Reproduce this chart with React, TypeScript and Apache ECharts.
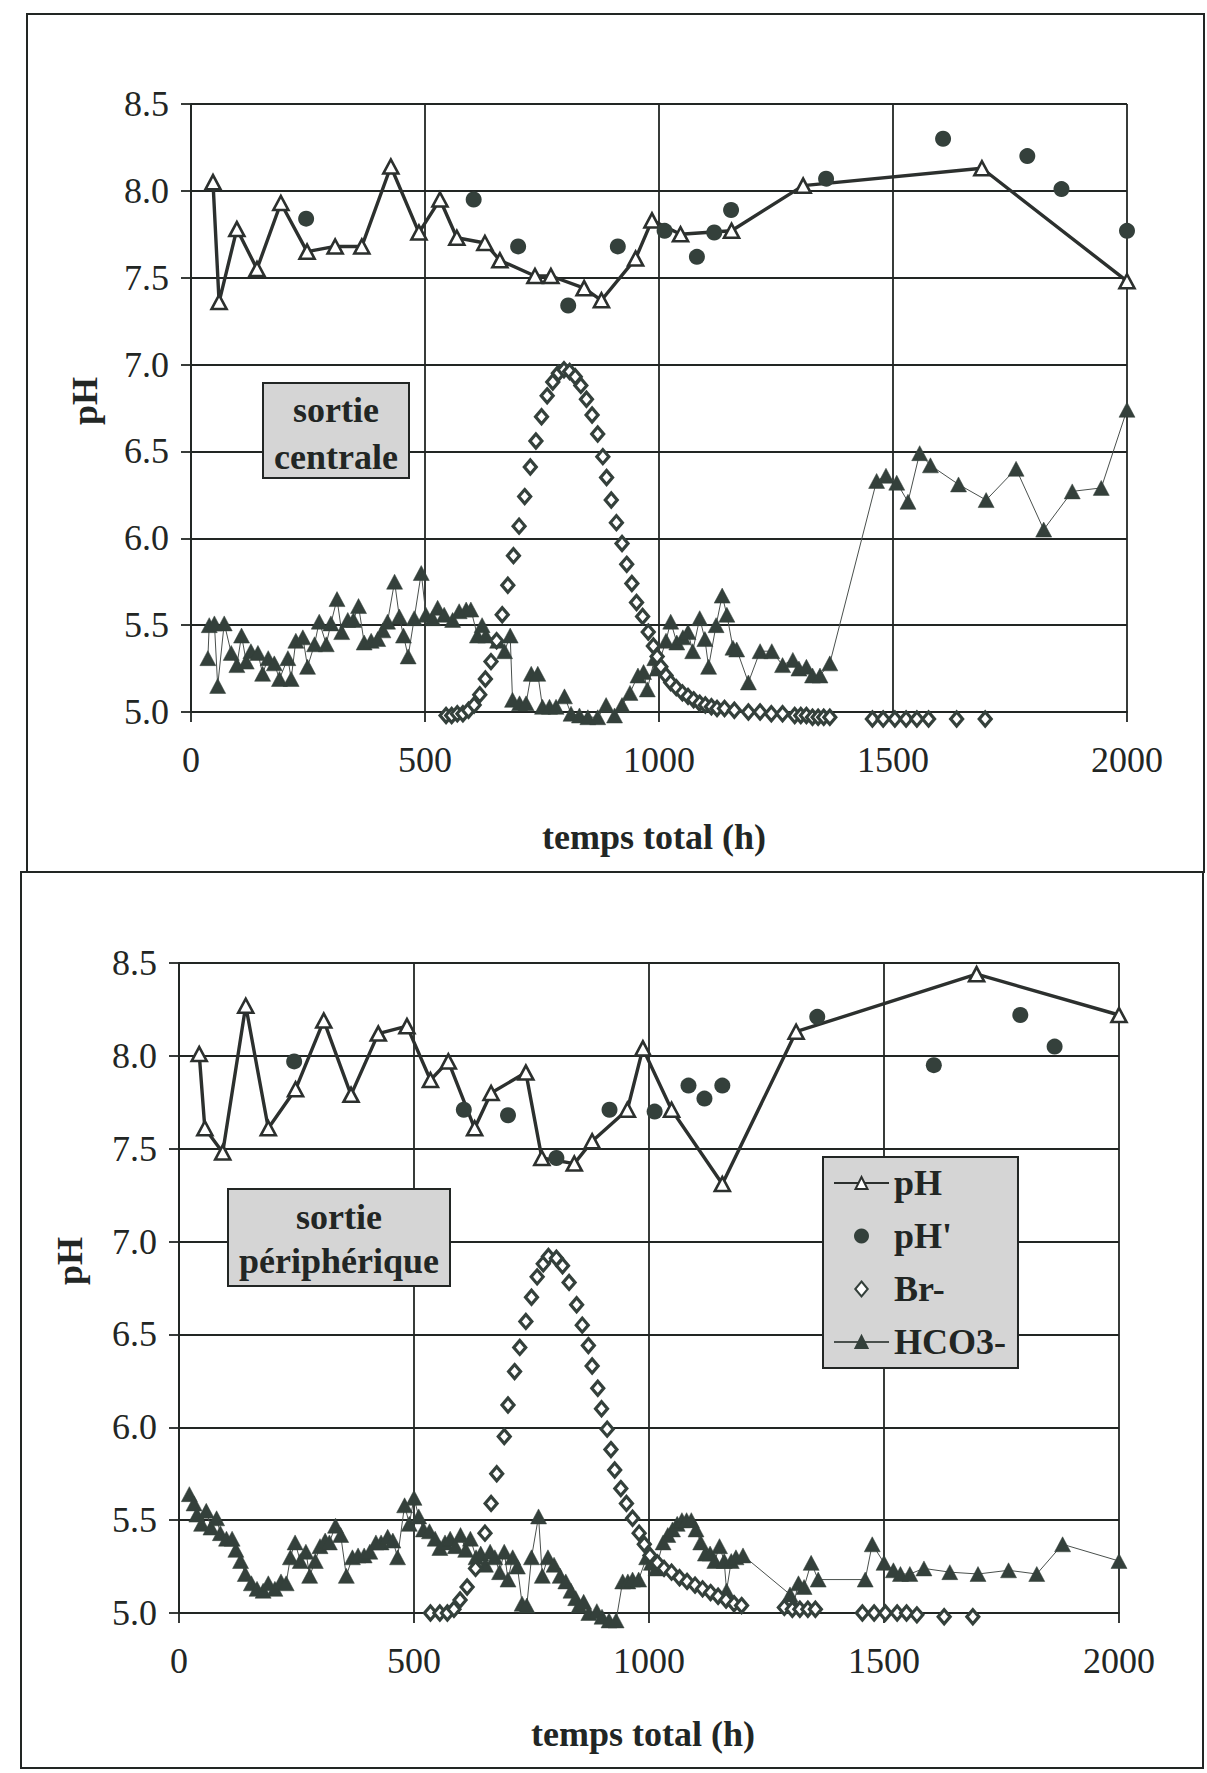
import React, { useEffect, useRef } from "react";
import * as echarts from "echarts";

// ---------- data : sortie centrale (top) ----------
const topPH: number[][] = [[47,8.05],[60,7.36],[98,7.78],[141,7.55],[192,7.93],[248,7.65],[308,7.68],[365,7.68],[427,8.14],[487,7.76],[532,7.95],[568,7.73],[628,7.70],[660,7.60],[735,7.51],[769,7.51],[840,7.44],[877,7.37],[950,7.61],[985,7.83],[1046,7.75],[1155,7.77],[1308,8.03],[1690,8.13],[2000,7.48]];
const topPHp: number[][] = [[246,7.84],[604,7.95],[699,7.68],[806,7.34],[912,7.68],[1012,7.77],[1081,7.62],[1118,7.76],[1154,7.89],[1357,8.07],[1607,8.30],[1787,8.20],[1860,8.01],[2000,7.77]];
const topBr: number[][] = [[545,4.98],[557,4.98],[569,4.99],[581,4.99],[593,5.01],[605,5.04],[617,5.10],[629,5.19],[641,5.29],[653,5.41],[665,5.56],[677,5.73],[689,5.90],[701,6.07],[713,6.24],[725,6.41],[737,6.56],[749,6.70],[761,6.82],[773,6.90],[785,6.95],[797,6.97],[809,6.96],[821,6.93],[833,6.88],[845,6.80],[857,6.71],[869,6.60],[880,6.47],[888,6.35],[898,6.22],[909,6.09],[921,5.97],[931,5.85],[942,5.74],[952,5.63],[965,5.55],[977,5.46],[988,5.38],[996,5.32],[1004,5.26],[1015,5.21],[1025,5.17],[1037,5.14],[1050,5.11],[1062,5.09],[1074,5.07],[1087,5.05],[1099,5.04],[1112,5.03],[1124,5.02],[1140,5.02],[1161,5.01],[1191,5.00],[1216,5.00],[1240,4.99],[1264,4.99],[1290,4.98],[1303,4.98],[1315,4.98],[1328,4.97],[1340,4.97],[1352,4.97],[1365,4.97],[1456,4.96],[1479,4.96],[1504,4.96],[1528,4.96],[1551,4.96],[1576,4.96],[1636,4.96],[1697,4.96]];
const topHCO3: number[][] = [[36,5.31],[39,5.50],[50,5.51],[57,5.15],[71,5.51],[86,5.34],[98,5.27],[108,5.44],[118,5.29],[128,5.35],[143,5.34],[153,5.22],[165,5.31],[178,5.28],[189,5.19],[207,5.31],[214,5.19],[224,5.41],[239,5.43],[249,5.26],[264,5.39],[274,5.52],[289,5.39],[299,5.51],[312,5.65],[322,5.46],[335,5.53],[347,5.53],[358,5.61],[370,5.40],[385,5.41],[399,5.42],[410,5.47],[420,5.52],[435,5.75],[445,5.55],[454,5.44],[464,5.32],[477,5.54],[492,5.80],[502,5.56],[516,5.54],[527,5.60],[541,5.56],[559,5.53],[573,5.58],[588,5.59],[598,5.59],[612,5.44],[622,5.50],[630,5.44],[655,5.41],[670,5.35],[682,5.44],[687,5.07],[702,5.05],[716,5.05],[727,5.22],[741,5.22],[751,5.03],[766,5.03],[780,5.03],[798,5.09],[812,4.99],[830,4.98],[848,4.97],[869,4.97],[887,5.04],[905,4.98],[921,5.04],[938,5.11],[955,5.21],[967,5.23],[975,5.13],[991,5.31],[996,5.25],[1015,5.41],[1025,5.52],[1038,5.40],[1051,5.43],[1062,5.46],[1072,5.35],[1087,5.54],[1098,5.42],[1106,5.26],[1122,5.50],[1135,5.67],[1145,5.56],[1158,5.37],[1166,5.36],[1191,5.17],[1216,5.35],[1241,5.35],[1264,5.27],[1286,5.30],[1299,5.25],[1315,5.26],[1328,5.21],[1344,5.21],[1365,5.28],[1465,6.33],[1485,6.36],[1508,6.32],[1532,6.21],[1557,6.49],[1580,6.42],[1640,6.31],[1699,6.22],[1763,6.40],[1822,6.05],[1883,6.27],[1945,6.29],[2000,6.74]];

// ---------- data : sortie périphérique (bottom) ----------
const botPH: number[][] = [[43,8.01],[55,7.61],[93,7.48],[142,8.27],[190,7.61],[248,7.82],[308,8.19],[366,7.79],[424,8.12],[485,8.16],[535,7.87],[573,7.97],[629,7.61],[664,7.80],[738,7.91],[772,7.45],[841,7.42],[879,7.54],[954,7.71],[987,8.04],[1048,7.71],[1156,7.31],[1313,8.13],[1697,8.44],[2000,8.22]];
const botPHp: number[][] = [[245,7.97],[606,7.71],[700,7.68],[803,7.45],[916,7.71],[1012,7.70],[1084,7.84],[1118,7.77],[1156,7.84],[1358,8.21],[1606,7.95],[1790,8.22],[1863,8.05]];
const botBr: number[][] = [[535,5.00],[555,5.00],[571,5.00],[585,5.02],[598,5.07],[613,5.14],[631,5.24],[651,5.43],[664,5.59],[676,5.75],[692,5.95],[700,6.12],[714,6.30],[725,6.43],[738,6.57],[750,6.70],[762,6.81],[775,6.88],[786,6.92],[803,6.91],[816,6.87],[830,6.78],[846,6.66],[858,6.55],[871,6.44],[879,6.33],[891,6.21],[899,6.10],[911,5.99],[919,5.88],[927,5.77],[940,5.67],[952,5.59],[965,5.51],[979,5.43],[990,5.37],[1002,5.31],[1018,5.27],[1032,5.24],[1048,5.22],[1065,5.19],[1081,5.17],[1098,5.15],[1114,5.13],[1131,5.11],[1147,5.09],[1164,5.07],[1181,5.05],[1197,5.04],[1288,5.03],[1305,5.02],[1321,5.02],[1338,5.02],[1354,5.02],[1454,5.00],[1479,5.00],[1503,5.00],[1528,5.00],[1548,5.00],[1570,4.99],[1628,4.98],[1689,4.98]];
const botHCO3: number[][] = [[22,5.64],[32,5.59],[38,5.53],[48,5.48],[58,5.55],[68,5.46],[80,5.51],[88,5.43],[101,5.40],[113,5.40],[121,5.34],[131,5.28],[141,5.21],[154,5.16],[166,5.13],[179,5.12],[190,5.16],[204,5.13],[217,5.17],[228,5.16],[237,5.30],[247,5.38],[258,5.28],[270,5.33],[278,5.20],[290,5.28],[300,5.36],[311,5.39],[320,5.38],[333,5.47],[344,5.42],[356,5.20],[369,5.30],[381,5.31],[394,5.31],[406,5.33],[419,5.38],[430,5.38],[444,5.41],[455,5.39],[465,5.30],[480,5.58],[490,5.48],[500,5.62],[510,5.52],[520,5.45],[533,5.44],[545,5.40],[555,5.35],[566,5.38],[577,5.40],[588,5.36],[599,5.42],[610,5.34],[620,5.40],[632,5.30],[642,5.32],[652,5.26],[662,5.33],[672,5.30],[682,5.22],[692,5.33],[700,5.18],[710,5.30],[720,5.25],[730,5.05],[740,5.04],[750,5.30],[765,5.52],[773,5.20],[785,5.30],[798,5.26],[811,5.20],[823,5.17],[834,5.12],[844,5.08],[851,5.04],[861,5.06],[872,5.00],[889,5.01],[900,4.98],[915,4.96],[930,4.96],[944,5.17],[955,5.17],[965,5.18],[978,5.18],[995,5.30],[1005,5.27],[1015,5.24],[1030,5.38],[1040,5.42],[1050,5.45],[1060,5.48],[1070,5.50],[1080,5.50],[1090,5.50],[1100,5.45],[1110,5.38],[1120,5.32],[1130,5.32],[1140,5.28],[1150,5.36],[1160,5.28],[1165,5.12],[1175,5.28],[1185,5.30],[1200,5.31],[1300,5.10],[1308,5.05],[1318,5.16],[1330,5.14],[1345,5.27],[1360,5.18],[1460,5.18],[1475,5.37],[1500,5.27],[1520,5.23],[1535,5.21],[1555,5.21],[1585,5.24],[1640,5.22],[1700,5.21],[1765,5.23],[1825,5.21],[1880,5.37],[2000,5.28]];

const seriesNames = ["pH", "pH'", "Br-", "HCO3-"];
const xTicks = { min: 0, max: 2000, interval: 500 };
const yTicks = { min: 5, max: 8.5, interval: 0.5 };

const INK = "#222624";
const MARK = "#34403b";
const SERIF = "'Liberation Serif', 'Times New Roman', serif";

function axisCommon() {
  return {
    axisLine: { show: true, onZero: false, lineStyle: { color: INK, width: 1.8 } },
    axisTick: { show: true, length: 10, inside: false, lineStyle: { color: INK, width: 1.8 } },
    splitLine: { show: true, lineStyle: { color: INK, width: 1.8 } },
  };
}

function seriesFor(idx: number, ph: number[][], php: number[][], br: number[][], hco3: number[][]) {
  return [
    {
      name: seriesNames[3], type: "line", xAxisIndex: idx, yAxisIndex: idx, data: hco3,
      symbol: "triangle", symbolSize: [16, 15], clip: false,
      lineStyle: { color: "#4a504d", width: 1 },
      itemStyle: { color: MARK, borderColor: MARK, borderWidth: 0.5, opacity: 1 },
      z: 2,
    },
    {
      name: seriesNames[2], type: "scatter", xAxisIndex: idx, yAxisIndex: idx, data: br,
      symbol: "diamond", symbolSize: [12, 14], clip: false,
      itemStyle: { color: "#ffffff", borderColor: MARK, borderWidth: 3.2, opacity: 1 },
      z: 3,
    },
    {
      name: seriesNames[0], type: "line", xAxisIndex: idx, yAxisIndex: idx, data: ph,
      symbol: "triangle", symbolSize: [15, 14], clip: false,
      lineStyle: { color: "#2c302e", width: 3.4 },
      itemStyle: { color: "#ffffff", borderColor: "#2c302e", borderWidth: 2.6, opacity: 1 },
      z: 4,
    },
    {
      name: seriesNames[1], type: "scatter", xAxisIndex: idx, yAxisIndex: idx, data: php,
      symbol: "circle", symbolSize: 16, clip: false,
      itemStyle: { color: MARK, opacity: 1 },
      z: 5,
    },
  ];
}

export default function App() {
  const ref = useRef<HTMLDivElement>(null);
  useEffect(() => {
    if (!ref.current) return;
    const chart = echarts.init(ref.current, null, { renderer: "svg" });
    const labelStyle = { fontFamily: SERIF, fontSize: 36, color: INK };
    const boldText = (text: string, x: number, y: number, extra: any = {}) => ({
      type: "text", x, y, rotation: extra.rotation || 0, silent: true, z: 100,
      style: {
        text, x: 0, y: 0, align: "center", verticalAlign: "middle",
        fontFamily: SERIF, fontWeight: "bold", fontSize: 36, lineHeight: extra.lineHeight || 40,
        fill: INK,
      },
    });
    const option: any = {
      animation: false,
      backgroundColor: "#ffffff",
      textStyle: { fontFamily: SERIF },
      grid: [
        { left: 191, top: 104, width: 936, height: 608, containLabel: false },
        { left: 179, top: 963, width: 940, height: 650, containLabel: false },
      ],
      xAxis: [0, 1].map((i) => ({
        type: "value", gridIndex: i, ...xTicks, ...axisCommon(),
        axisLabel: { ...labelStyle, margin: 30, showMinLabel: true, showMaxLabel: true, formatter: (v: number) => String(v) },
      })),
      yAxis: [0, 1].map((i) => ({
        type: "value", gridIndex: i, ...yTicks, ...axisCommon(),
        axisLabel: { ...labelStyle, margin: 22, formatter: (v: number) => v.toFixed(1) },
      })),
      legend: {
        data: [
          { name: seriesNames[0] },
          { name: seriesNames[1] },
          { name: seriesNames[2], icon: "path://M5,0 L10,6 L5,12 L0,6 Z" },
          { name: seriesNames[3] },
        ],
        orient: "vertical",
        left: 823, top: 1157,
        padding: [8, 12, 8, 10],
        itemGap: 17,
        itemWidth: 55, itemHeight: 15,
        symbolKeepAspect: true,
        backgroundColor: "#d5d5d5",
        borderColor: INK, borderWidth: 2,
        selectedMode: false,
        textStyle: { fontFamily: SERIF, fontWeight: "bold", fontSize: 36, lineHeight: 36, color: INK },
      },
      graphic: [
        { type: "rect", shape: { x: 27, y: 14, width: 1177, height: 858 }, style: { fill: "none", stroke: INK, lineWidth: 2 }, silent: true },
        { type: "rect", shape: { x: 21, y: 872, width: 1182, height: 896 }, style: { fill: "none", stroke: INK, lineWidth: 2 }, silent: true },
        { type: "rect", shape: { x: 263, y: 383, width: 146, height: 95 }, style: { fill: "#d5d5d5", stroke: INK, lineWidth: 2 }, z: 99, silent: true },
        boldText("sortie\ncentrale", 336, 433, { lineHeight: 47 }),
        { type: "rect", shape: { x: 228, y: 1189, width: 222, height: 97 }, style: { fill: "#d5d5d5", stroke: INK, lineWidth: 2 }, z: 99, silent: true },
        boldText("sortie\npériphérique", 339, 1239, { lineHeight: 44 }),
        boldText("pH", 85, 401, { rotation: Math.PI / 2 }),
        boldText("pH", 70, 1261, { rotation: Math.PI / 2 }),
        boldText("temps total (h)", 654, 837),
        boldText("temps total (h)", 643, 1734),
      ],
      series: [
        ...seriesFor(0, topPH, topPHp, topBr, topHCO3),
        ...seriesFor(1, botPH, botPHp, botBr, botHCO3),
      ],
    };
    chart.setOption(option);
    return () => chart.dispose();
  }, []);
  return (
    <div
      ref={ref}
      style={{ position: "absolute", left: 0, top: 0, width: 1207, height: 1773, background: "#fff" }}
    />
  );
}
